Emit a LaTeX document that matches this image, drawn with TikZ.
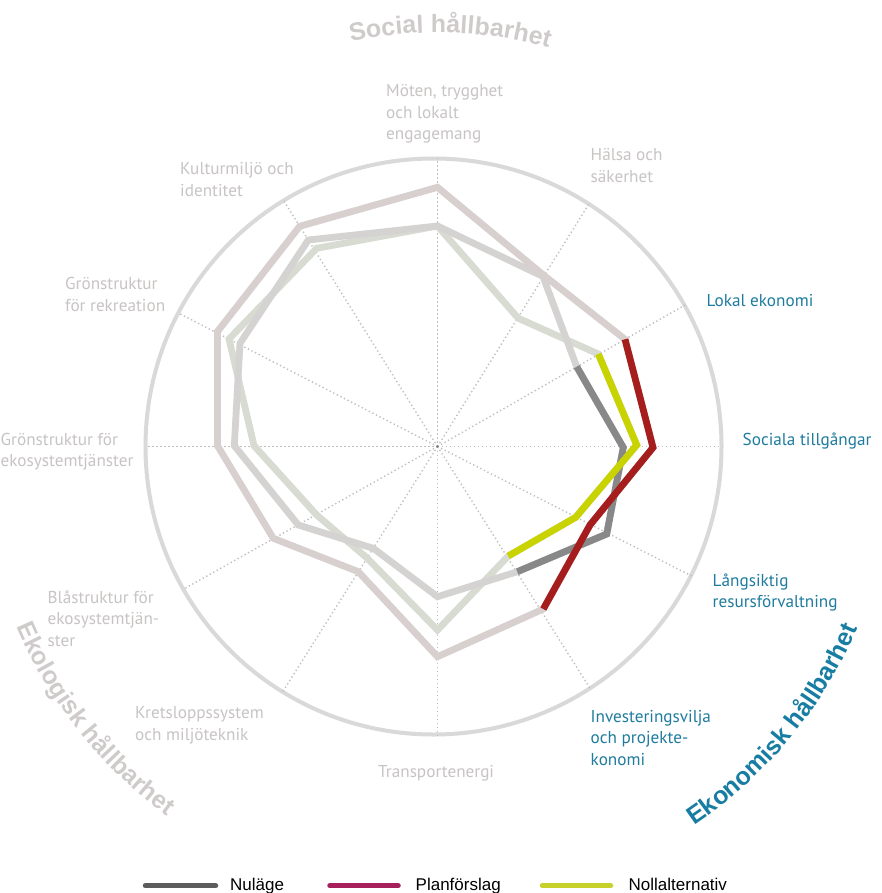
\documentclass[tikz,border=0pt]{standalone}
\usepackage{fontspec}
\setmainfont{PT Sans}
\newfontfamily\titlefamily{Liberation Sans}
\newfontfamily\legfamily{Liberation Sans}
\usetikzlibrary{decorations.text}
\newcommand\labfnt{\fontsize{17.2}{21.5}\selectfont}
\newcommand\titlefnt{\fontsize{25}{30}\selectfont\titlefamily\bfseries}
\newcommand\legfnt{\fontsize{17}{20}\selectfont\legfamily}
\definecolor{lblgray}{HTML}{C8C4C4}
\definecolor{lblblue}{HTML}{1F7C9E}
\definecolor{titlegray}{HTML}{CFCBCB}
\definecolor{titleblue}{HTML}{187DA2}
\definecolor{circgray}{HTML}{D9D9D9}
\definecolor{axgray}{HTML}{BEBEBE}
\definecolor{nulC}{HTML}{888888}
\definecolor{planC}{HTML}{A61D1D}
\definecolor{nollC}{HTML}{C8D300}
\definecolor{nulL}{HTML}{D5D2D2}
\definecolor{planL}{HTML}{D8CFCF}
\definecolor{nollL}{HTML}{D8DBD2}
\definecolor{legNul}{HTML}{5C5C5C}
\definecolor{legPlan}{HTML}{A6215B}
\definecolor{legNoll}{HTML}{C6D12C}
\begin{document}
\begin{tikzpicture}[x=1pt,y=-1pt,
  lab/.style={font=\labfnt, text=lblgray, align=left, anchor=base west, inner sep=0pt},
  labE/.style={lab, text=lblblue},
  axisline/.style={axgray, line width=1.4pt, dash pattern=on 1.3pt off 2.7pt},
  serline/.style={line width=6.8pt, line join=miter},
  legline/.style={line width=5.5pt, line cap=round},
  legtext/.style={font=\legfnt, text=black, anchor=base west, inner sep=0pt}]
\useasboundingbox (0,0) rectangle (882,893);
\fill[white] (0,0) rectangle (882,893);
% centre and axis ends
\coordinate (C) at (437.5,446.5);
\coordinate (A1) at (437.5,158);
\coordinate (A2) at (589.3,203.3);
\coordinate (A3) at (685,305);
\coordinate (A4) at (721,446.5);
\coordinate (A5) at (691.7,576);
\coordinate (A6) at (590,688.3);
\coordinate (A7) at (437.5,735);
\coordinate (A8) at (281.7,693.3);
\coordinate (A9) at (183.3,589.3);
\coordinate (A10) at (146,446.5);
\coordinate (A11) at (178.3,313);
\coordinate (A12) at (283.3,200);
% outer circle
\draw[circgray, line width=4pt] (433.5,446.5) circle[radius=288pt];
% axes
\foreach \i in {1,...,12} \draw[axisline] (C) -- (A\i);
\fill[gray] (C) circle[radius=1.4pt];
% Planförslag
\coordinate (P1) at (437.5,187.3);
\coordinate (P2) at (544,275.5);
\coordinate (P3) at (625,339.3);
\coordinate (P4) at (653,447.5);
\coordinate (P5) at (590,525);
\coordinate (P6) at (543.3,609);
\coordinate (P7) at (437.5,656.7);
\coordinate (P8) at (358.3,571.7);
\coordinate (P9) at (273.3,538.3);
\coordinate (P10) at (217.5,445.7);
\coordinate (P11) at (217.5,331.5);
\coordinate (P12) at (299.7,226.3);
% Nuläge
\coordinate (N1) at (437.5,226);
\coordinate (N2) at (543,276.5);
\coordinate (N3) at (576.7,366.7);
\coordinate (N4) at (623.3,447.5);
\coordinate (N5) at (606.7,534);
\coordinate (N6) at (517.3,571.7);
\coordinate (N7) at (437.5,596.7);
\coordinate (N8) at (373.3,548.3);
\coordinate (N9) at (298.3,525);
\coordinate (N10) at (234.3,445.7);
\coordinate (N11) at (240,343.3);
\coordinate (N12) at (308.3,240);
% Nollalternativ
\coordinate (O1) at (437.5,226);
\coordinate (O2) at (518.3,318.3);
\coordinate (O3) at (598.3,354);
\coordinate (O4) at (636.7,445);
\coordinate (O5) at (575.7,517.3);
\coordinate (O6) at (508.3,556);
\coordinate (O7) at (437.5,630);
\coordinate (O8) at (366.7,557.7);
\coordinate (O9) at (316.7,515);
\coordinate (O10) at (254,445.7);
\coordinate (O11) at (229,339);
\coordinate (O12) at (316.7,248.3);
% light series
\draw[serline, nollL] (O1) -- (O2) -- (O3) -- (O4) -- (O5) -- (O6) -- (O7) -- (O8) -- (O9) -- (O10) -- (O11) -- (O12) -- cycle;
\draw[serline, nulL] (N1) -- (N2) -- (N3) -- (N4) -- (N5) -- (N6) -- (N7) -- (N8) -- (N9) -- (N10) -- (N11) -- (N12) -- cycle;
\draw[serline, planL] (P1) -- (P2) -- (P3) -- (P4) -- (P5) -- (P6) -- (P7) -- (P8) -- (P9) -- (P10) -- (P11) -- (P12) -- cycle;
% economic sector in colour
\draw[serline, nulC] (N3) -- (N4) -- (N5) -- (N6);
\draw[serline, nollC] (O3) -- (O4) -- (O5) -- (O6);
\draw[serline, planC] (P3) -- (P4) -- (P5) -- (P6);
% axis labels (base = baseline of the last line)
\node[lab] (l1) at (386,140) {Möten, trygghet\\och lokalt\\engagemang};
\node[lab] (l2) at (590.5,182.5) {Hälsa och\\säkerhet};
\node[labE] (l3) at (706.5,306.5) {Lokal ekonomi};
\node[labE] (l4) at (742.5,445) {Sociala tillgångar};
\node[labE] (l5) at (712.5,607.5) {Långsiktig\\resursförvaltning};
\node[labE] (l6) at (590.5,765) {Investeringsvilja\\och projekte-\\konomi};
\node[lab] (l7) at (378,777) {Transportenergi};
\node[lab] (l8) at (135,740) {Kretsloppssystem\\och miljöteknik};
\node[lab] (l9) at (47.5,646) {Blåstruktur för\\ekosystemtjän-\\ster};
\node[lab] (l10) at (0.5,466.5) {Grönstruktur för\\ekosystemtjänster};
\node[lab] (l11) at (65,311) {Grönstruktur\\för rekreation};
\node[lab] (l12) at (180,196.5) {Kulturmiljö och\\identitet};
% sector titles
\path[decorate, decoration={text along path, text align=center, text color=titlegray,
  text={|\titlefnt|Social hållbarhet}}]
  (C) ++(118.25:414pt) arc[start angle=118.25, end angle=58.25, radius=414pt];
\path[decorate, decoration={text along path, text align=center, text color=titlegray,
  text={|\titlefnt|Ekologisk hållbarhet}}]
  (C) ++(198.5:458pt) arc[start angle=198.5, end angle=238.5, radius=458pt];
\path[decorate, decoration={text along path, text align=center, text color=titleblue,
  text={|\titlefnt|Ekonomisk hållbarhet}}]
  (C) ++(-59.65:458pt) arc[start angle=-59.65, end angle=-19.65, radius=458pt];
% legend
\coordinate (g1a) at (145.5,885.7);
\coordinate (g1b) at (215.5,885.7);
\coordinate (g2a) at (330,885.7);
\coordinate (g2b) at (398,885.7);
\coordinate (g3a) at (542.5,885.7);
\coordinate (g3b) at (610.5,885.7);
\draw[legline, legNul] (g1a) -- (g1b);
\draw[legline, legPlan] (g2a) -- (g2b);
\draw[legline, legNoll] (g3a) -- (g3b);
\node[legtext] (t1) at (230,890) {Nuläge};
\node[legtext] (t2) at (415.5,890) {Planförslag};
\node[legtext] (t3) at (628.5,890) {Nollalternativ};
\end{tikzpicture}
\end{document}
